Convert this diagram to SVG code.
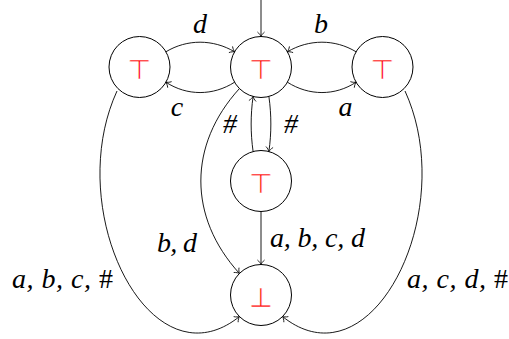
<svg xmlns="http://www.w3.org/2000/svg" width="509" height="339" viewBox="0 0 509 339">
<style>
.n{fill:#fff;stroke:#000;stroke-width:1}
.s{font-family:"DejaVu Sans",sans-serif;font-size:27px;fill:#f00;stroke:#fff;stroke-width:0.4;paint-order:fill stroke;text-anchor:middle}
.e{fill:none;stroke:#000;stroke-width:0.9;marker-end:url(#arr)}
text.l{font-family:'Liberation Serif','Times New Roman',serif;font-style:italic;font-size:28px;fill:#000;text-anchor:middle}
.h{font-style:normal}
</style>
<defs>
<marker id="arr" markerUnits="userSpaceOnUse" markerWidth="12" markerHeight="12" refX="0" refY="0" orient="auto" overflow="visible" viewBox="-6 -6 12 12">
<path d="M-4.5,-3.6 C-3,-1.6 -1,-0.5 0,0 C-1,0.5 -3,1.6 -4.5,3.6" fill="none" stroke="#000" stroke-width="0.8"/>
</marker>
</defs>
<g id="n_left"><circle class="n" cx="139.5" cy="67" r="30.5"/><text class="s" x="139.5" y="78.5">⊤</text></g>
<g id="n_top"><circle class="n" cx="261" cy="67" r="30.5"/><text class="s" x="261" y="78.5">⊤</text></g>
<g id="n_right"><circle class="n" cx="382.5" cy="67" r="30.5"/><text class="s" x="382.5" y="78.5">⊤</text></g>
<g id="n_mid"><circle class="n" cx="261" cy="181" r="30.5"/><text class="s" x="261" y="192.5">⊤</text></g>
<g id="n_bot"><circle class="n" cx="261" cy="295" r="30.5"/><text class="s" x="261" y="306.5">⊥</text></g>
<g id="connectors">
<path class="e" d="M261,0 L261,36.5"/>
<path class="e" d="M165.9,51.8 C187,39 213,39 234.6,51.8"/>
<path class="e" d="M234.6,82.2 C213,96 187,96 165.9,82.2"/>
<path class="e" d="M356.1,51.8 C335,39 309,39 287.4,51.8"/>
<path class="e" d="M287.4,82.2 C309,96 335,96 356.1,82.2"/>
<path class="e" d="M268.9,96.5 C271.5,115 271.5,133 268.9,151.5"/>
<path class="e" d="M253.1,151.5 C250.5,133 250.5,115 253.1,96.5"/>
<path class="e" d="M261,211.5 L261,264.5"/>
<path class="e" d="M239.4,88.6 C188,145 188,217 239.4,273.4"/>
<path class="e" d="M117,91 C62,211 150,388 239.4,316.6"/>
<path class="e" d="M405,91 C460,211 372,388 282.6,316.6"/>
</g>
<g id="labels">
<text class="l" x="200" y="33">d</text>
<text class="l" x="321" y="33">b</text>
<text class="l" x="177" y="116">c</text>
<text class="l" x="345.5" y="116">a</text>
<text class="l h" x="230" y="133">#</text>
<text class="l h" x="291" y="133">#</text>
<text class="l" x="177" y="252" textLength="40" lengthAdjust="spacing">b, d</text>
<text class="l" x="317.5" y="247" textLength="95" lengthAdjust="spacing">a, b, c, d</text>
<text class="l" x="62.5" y="288" textLength="101" lengthAdjust="spacing">a, b, c, <tspan class="h">#</tspan></text>
<text class="l" x="457.5" y="288" textLength="101" lengthAdjust="spacing">a, c, d, <tspan class="h">#</tspan></text>
</g>
</svg>
